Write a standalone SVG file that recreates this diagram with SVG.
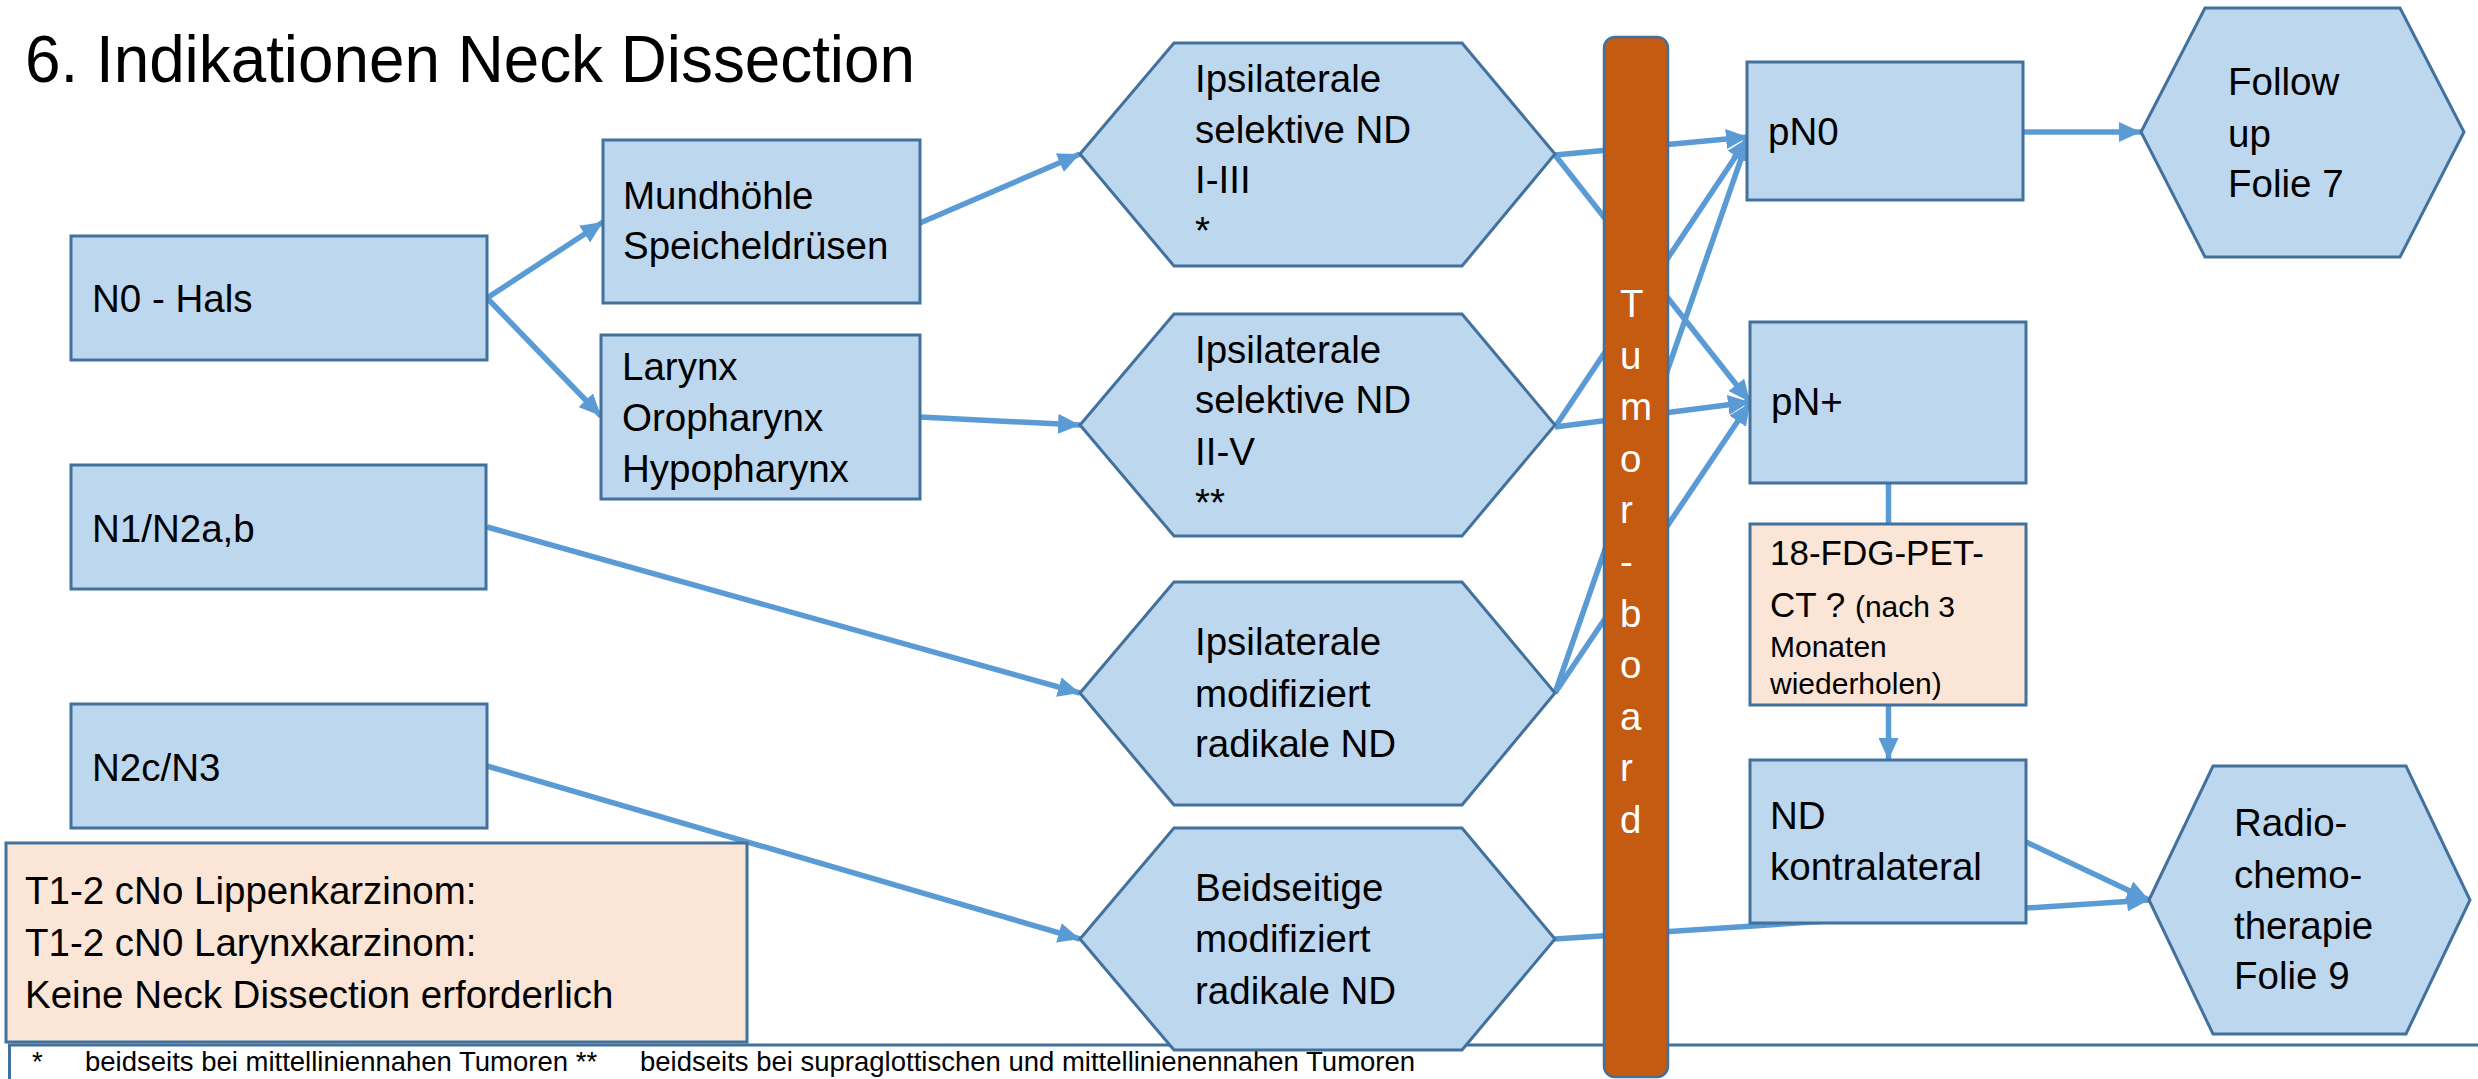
<svg xmlns="http://www.w3.org/2000/svg" width="2478" height="1079" viewBox="0 0 2478 1079">
  <style>
    .box { fill: #BDD7EE; stroke: #41719C; stroke-width: 3; }
    .note { fill: #FBE5D6; stroke: #41719C; stroke-width: 3; }
    .foot { fill: #FFFFFF; stroke: #41719C; stroke-width: 3; }
    .bar { fill: #C55A11; stroke: #41719C; stroke-width: 2.5; }
    .conn { fill: none; stroke: #5B9BD5; stroke-width: 5.5; }
    text { font-family: "Liberation Sans", Arial, sans-serif; fill: #000000; }
    .t { font-size: 38.5px; }
    .s { font-size: 30px; }
    .fn { font-size: 27.5px; }
    .w { fill: #FFFFFF; font-size: 38.5px; }
    .title { font-size: 66px; }
  </style>
  <defs>
    <marker id="arrow" markerUnits="userSpaceOnUse" markerWidth="22" markerHeight="20" refX="22" refY="10" orient="auto">
      <path d="M0,0 L22,10 L0,20 z" fill="#5B9BD5"/>
    </marker>
  </defs>

  <rect width="2478" height="1079" fill="#FFFFFF"/>

  <!-- title -->
  <text class="title" x="25" y="82" textLength="890" lengthAdjust="spacingAndGlyphs">6. Indikationen Neck Dissection</text>

  <!-- footnote frame -->
  <g id="footnote">
    <rect class="foot" x="9.5" y="1045" width="2500" height="100"/>
    <text class="fn" x="32" y="1071">*</text>
    <text class="fn" x="85" y="1071">beidseits bei mittelliniennahen Tumoren **</text>
    <text class="fn" x="640" y="1071">beidseits bei supraglottischen und mittellinienennahen Tumoren</text>
  </g>

  <!-- connectors -->
  <g id="connectors" class="conn">
    <line x1="487" y1="298" x2="603" y2="222" marker-end="url(#arrow)"/>
    <line x1="487" y1="298" x2="601" y2="416" marker-end="url(#arrow)"/>
    <line x1="920" y1="223" x2="1080" y2="154" marker-end="url(#arrow)"/>
    <line x1="920" y1="417" x2="1080" y2="425" marker-end="url(#arrow)"/>
    <line x1="487" y1="527" x2="1080" y2="693" marker-end="url(#arrow)"/>
    <line x1="487" y1="766" x2="1080" y2="939" marker-end="url(#arrow)"/>
    <!-- into the tumor board results -->
    <line x1="1555" y1="155" x2="1748" y2="137" marker-end="url(#arrow)"/>
    <line x1="1555" y1="155" x2="1750" y2="402" marker-end="url(#arrow)"/>
    <line x1="1555" y1="427" x2="1748" y2="138" marker-end="url(#arrow)"/>
    <line x1="1555" y1="427" x2="1750" y2="402" marker-end="url(#arrow)"/>
    <line x1="1555" y1="693" x2="1748" y2="139" marker-end="url(#arrow)"/>
    <line x1="1555" y1="693" x2="1750" y2="403" marker-end="url(#arrow)"/>
    <line x1="1555" y1="939" x2="2149" y2="900" marker-end="url(#arrow)"/>
    <!-- right column -->
    <line x1="2023" y1="132" x2="2141" y2="132" marker-end="url(#arrow)"/>
    <line x1="1888.5" y1="483" x2="1888.5" y2="524"/>
    <line x1="1888.5" y1="705" x2="1888.5" y2="760" marker-end="url(#arrow)"/>
    <line x1="2026" y1="842" x2="2149" y2="900" marker-end="url(#arrow)"/>
  </g>

  <!-- left column -->
  <g id="n0-hals">
    <rect class="box" x="71" y="236" width="416" height="124"/>
    <text class="t" x="92" y="312">N0 - Hals</text>
  </g>
  <g id="n1-n2ab">
    <rect class="box" x="71" y="465" width="415" height="124"/>
    <text class="t" x="92" y="542">N1/N2a,b</text>
  </g>
  <g id="n2c-n3">
    <rect class="box" x="71" y="704" width="416" height="124"/>
    <text class="t" x="92" y="781">N2c/N3</text>
  </g>
  <g id="note-lippe-larynx">
    <rect class="note" x="6" y="843" width="741" height="199"/>
    <text class="t" x="25" y="904">T1-2 cNo Lippenkarzinom:</text>
    <text class="t" x="25" y="956">T1-2 cN0 Larynxkarzinom:</text>
    <text class="t" x="25" y="1008">Keine Neck Dissection erforderlich</text>
  </g>

  <!-- sites -->
  <g id="mundhoehle">
    <rect class="box" x="603" y="140" width="317" height="163"/>
    <text class="t" x="623" y="209">Mundhöhle</text>
    <text class="t" x="623" y="259">Speicheldrüsen</text>
  </g>
  <g id="larynx">
    <rect class="box" x="601" y="335" width="319" height="164"/>
    <text class="t" x="622" y="380">Larynx</text>
    <text class="t" x="622" y="431">Oropharynx</text>
    <text class="t" x="622" y="482">Hypopharynx</text>
  </g>

  <!-- neck dissection types -->
  <g id="nd-selektiv-1-3">
    <polygon class="box" points="1080,154 1174,43 1462,43 1555,154 1462,266 1174,266"/>
    <text class="t" x="1195" y="92">Ipsilaterale</text>
    <text class="t" x="1195" y="143">selektive ND</text>
    <text class="t" x="1195" y="193">I-III</text>
    <text class="t" x="1195" y="244">*</text>
  </g>
  <g id="nd-selektiv-2-5">
    <polygon class="box" points="1080,425 1174,314 1462,314 1555,425 1462,536 1174,536"/>
    <text class="t" x="1195" y="363">Ipsilaterale</text>
    <text class="t" x="1195" y="413">selektive ND</text>
    <text class="t" x="1195" y="465">II-V</text>
    <text class="t" x="1195" y="516">**</text>
  </g>
  <g id="nd-ipsi-mrnd">
    <polygon class="box" points="1080,693 1174,582 1462,582 1555,693 1462,805 1174,805"/>
    <text class="t" x="1195" y="655">Ipsilaterale</text>
    <text class="t" x="1195" y="707">modifiziert</text>
    <text class="t" x="1195" y="757">radikale ND</text>
  </g>
  <g id="nd-beidseitig">
    <polygon class="box" points="1080,939 1174,828 1462,828 1555,939 1462,1050 1174,1050"/>
    <text class="t" x="1195" y="901">Beidseitige</text>
    <text class="t" x="1195" y="952">modifiziert</text>
    <text class="t" x="1195" y="1004">radikale ND</text>
  </g>

  <!-- tumor board -->
  <g id="tumorboard">
    <rect class="bar" x="1604" y="37" width="64" height="1040" rx="11" ry="11"/>
    <text class="w" x="1620" y="317">T</text>
    <text class="w" x="1620" y="369">u</text>
    <text class="w" x="1620" y="420">m</text>
    <text class="w" x="1620" y="472">o</text>
    <text class="w" x="1620" y="523">r</text>
    <text class="w" x="1620" y="575">-</text>
    <text class="w" x="1620" y="627">b</text>
    <text class="w" x="1620" y="678">o</text>
    <text class="w" x="1620" y="730">a</text>
    <text class="w" x="1620" y="781">r</text>
    <text class="w" x="1620" y="833">d</text>
  </g>

  <!-- pathology results -->
  <g id="pn0">
    <rect class="box" x="1747" y="62" width="276" height="138"/>
    <text class="t" x="1768" y="145">pN0</text>
  </g>
  <g id="pnplus">
    <rect class="box" x="1750" y="322" width="276" height="161"/>
    <text class="t" x="1771" y="415">pN+</text>
  </g>
  <g id="pet-ct">
    <rect class="note" x="1750" y="524" width="276" height="181"/>
    <text class="t" x="1770" y="565"><tspan font-size="35px">18-FDG-PET-</tspan></text>
    <text class="t" x="1770" y="617"><tspan font-size="35px">CT ? </tspan><tspan class="s">(nach 3</tspan></text>
    <text class="s" x="1770" y="657">Monaten</text>
    <text class="s" x="1770" y="694">wiederholen)</text>
  </g>
  <g id="nd-kontralateral">
    <rect class="box" x="1750" y="760" width="276" height="163"/>
    <text class="t" x="1770" y="829">ND</text>
    <text class="t" x="1770" y="880">kontralateral</text>
  </g>

  <!-- follow-up / therapy -->
  <g id="follow-up">
    <polygon class="box" points="2141,132 2205,8 2400,8 2464,132 2400,257 2205,257"/>
    <text class="t" x="2228" y="95">Follow</text>
    <text class="t" x="2228" y="147">up</text>
    <text class="t" x="2228" y="197">Folie 7</text>
  </g>
  <g id="radiochemo">
    <polygon class="box" points="2149,900 2213,766 2406,766 2470,900 2406,1034 2213,1034"/>
    <text class="t" x="2234" y="836">Radio-</text>
    <text class="t" x="2234" y="888">chemo-</text>
    <text class="t" x="2234" y="939">therapie</text>
    <text class="t" x="2234" y="989">Folie 9</text>
  </g>
</svg>
